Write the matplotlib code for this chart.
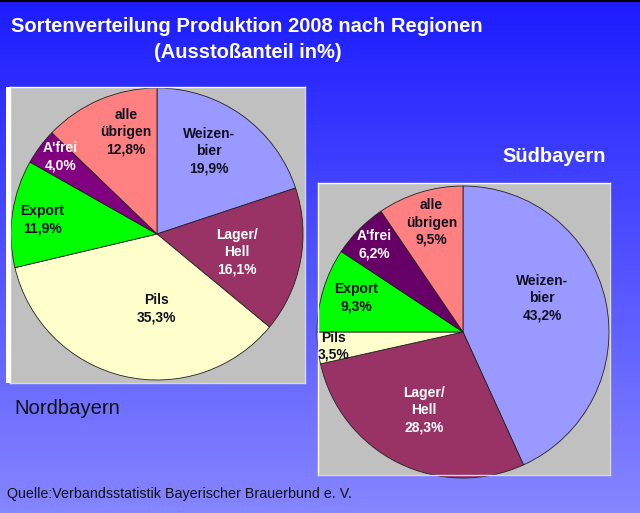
import numpy as np
import matplotlib
matplotlib.use("Agg")
import matplotlib.pyplot as plt
from matplotlib.patches import Rectangle

W, H = 640, 513

sorts = ["Weizen-\nbier", "Lager/\nHell", "Pils", "Export", "A'frei", "alle\nübrigen"]
nord = [19.9, 16.1, 35.3, 11.9, 4.0, 12.8]
sued = [43.2, 28.3, 3.5, 9.3, 6.2, 9.5]

colors_nord = ["#9999ff", "#993366", "#ffffcc", "#00ff00", "#800080", "#ff8080"]
colors_sued = ["#9999ff", "#993366", "#ffffcc", "#00ff00", "#660066", "#ff8080"]
text_col = ["#111122", "white", "#111122", "#111122", "white", "#111122"]

# label placement: fraction of radius, angle tweak in degrees
pos_nord = [(0.67, 4), (0.56, -2), (0.51, 13), (0.79, 1), (0.85, -2), (0.73, -6)]
pos_sued = [(0.59, 11), (0.60, 0), (0.89, 0), (0.77, -1), (0.85, 0), (0.78, -1)]


def px(x0, y0, x1, y1):
    # pixel box (top-left origin) -> figure fraction rect
    return [x0 / W, (H - y1) / H, (x1 - x0) / W, (y1 - y0) / H]


fig = plt.figure(figsize=(W / 100, H / 100), dpi=100)

# background gradient
bg = fig.add_axes([0, 0, 1, 1])
top = np.array([0x1c, 0x1c, 0xff]) / 255
bot = np.array([0x86, 0x86, 0xff]) / 255
t = np.linspace(0, 1, 256)[:, None]
grad = top + (bot - top) * t
bg.imshow(grad[:, None, :], aspect="auto", extent=[0, 1, 0, 1])
bg.axhline(1, color="black", lw=3)
bg.set_axis_off()


def panel(box, center, radius, values, colors, pos):
    x0, y0, x1, y1 = box
    ax = fig.add_axes(px(x0, y0, x1, y1))
    cx, cy = center
    # pie works y-up, so flip the pixel centre
    ax.pie(values, colors=colors, startangle=90, counterclock=False,
           radius=radius, center=(cx, H - cy),
           wedgeprops=dict(edgecolor="#222222", linewidth=0.6))
    start = 90.0
    for lab, v, tc, (rf, da) in zip(sorts, values, text_col, pos):
        mid = start - v * 3.6 / 2 + da
        start -= v * 3.6
        a = np.deg2rad(mid)
        tx = cx + rf * radius * np.cos(a)
        ty = H - cy + rf * radius * np.sin(a)
        ax.text(tx, ty, f"{lab}\n{v:.1f}%".replace(".", ","), ha="center",
                va="center", color=tc, fontsize=10, fontweight="bold",
                family="Liberation Sans", linespacing=1.3)
    ax.set_frame_on(True)
    ax.set_facecolor("#c0c0c0")
    ax.set_aspect("auto")
    ax.set_xlim(x0, x1)
    ax.set_ylim(H - y1, H - y0)
    ax.set_xticks([])
    ax.set_yticks([])
    for s in ax.spines.values():
        s.set_color("#d8d8d8")
        s.set_linewidth(1)
    ax.spines["left"].set_color("white")
    ax.spines["top"].set_color("white")


# white strip at left edge of the Nordbayern panel
fig.patches.append(Rectangle((6 / W, (H - 383) / H), 5 / W, 296 / H,
                             transform=fig.transFigure, facecolor="white",
                             edgecolor="none"))
panel((10, 87, 305, 383), (157, 234), 146, nord, colors_nord, pos_nord)
panel((318, 183, 610, 475), (463, 332), 146, sued, colors_sued, pos_sued)

fig.text(247 / W, 1 - 26 / H, "Sortenverteilung Produktion 2008 nach Regionen",
         ha="center", va="center", color="white", fontsize=14.5,
         fontweight="bold", family="Liberation Sans")
fig.text(248 / W, 1 - 52 / H, "(Ausstoßanteil in%)",
         ha="center", va="center", color="white", fontsize=14.5,
         fontweight="bold", family="Liberation Sans")
fig.text(554 / W, 1 - 157 / H, "Südbayern", ha="center", va="center",
         color="white", fontsize=14.4, fontweight="bold", family="Liberation Sans")
fig.text(14 / W, 1 - 408 / H, "Nordbayern", ha="left", va="center",
         color="#111111", fontsize=14.6, family="Liberation Sans")
fig.text(7 / W, 1 - 494 / H, "Quelle:Verbandsstatistik Bayerischer Brauerbund e. V.",
         ha="left", va="center", color="#111111", fontsize=10.3,
         family="Liberation Sans")

fig.savefig("out.png", dpi=100)
